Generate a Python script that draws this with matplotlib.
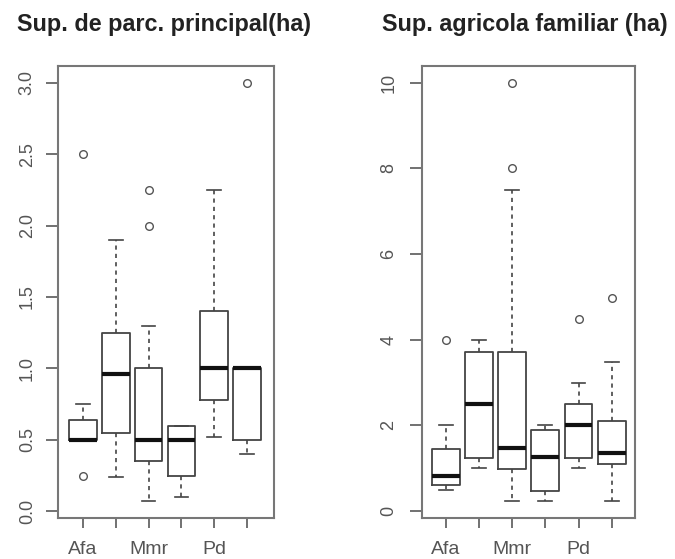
import matplotlib
matplotlib.use("Agg")
import matplotlib.pyplot as plt

plt.rcParams['font.family'] = ['Liberation Sans', 'DejaVu Sans']

groups = ["Afa", "", "Mmr", "", "Pd", ""]

# Panel 1: Sup. de parc. principal (ha)
p1_q1 = [0.50, 0.55, 0.35, 0.25, 0.78, 0.50]
p1_med = [0.50, 0.96, 0.50, 0.50, 1.00, 1.00]
p1_q3 = [0.64, 1.25, 1.00, 0.60, 1.40, 1.00]
p1_lo = [0.50, 0.24, 0.07, 0.10, 0.52, 0.40]
p1_hi = [0.75, 1.90, 1.30, 0.60, 2.25, 1.00]
p1_fl = [[0.25, 2.50], [], [2.00, 2.25], [], [], [3.00]]

# Panel 2: Sup. agricola familiar (ha)
p2_q1 = [0.62, 1.23, 0.98, 0.47, 1.23, 1.10]
p2_med = [0.82, 2.50, 1.48, 1.27, 2.00, 1.35]
p2_q3 = [1.46, 3.72, 3.72, 1.89, 2.49, 2.10]
p2_lo = [0.50, 1.00, 0.23, 0.23, 1.00, 0.23]
p2_hi = [2.00, 4.00, 7.50, 2.00, 2.98, 3.49]
p2_fl = [[4.00], [], [8.00, 10.00], [], [4.48], [4.97]]

titles = ["Sup. de parc. principal(ha)", "Sup. agricola familiar (ha)"]
yticks1 = [0.0, 0.5, 1.0, 1.5, 2.0, 2.5, 3.0]
yticks2 = [0, 2, 4, 6, 8, 10]

fig = plt.figure(figsize=(6.75, 5.59), dpi=100)
ax1 = fig.add_axes([58/675, 1-518/559, (274-58)/675, (518-66)/559])
ax2 = fig.add_axes([421.7/675, 1-518/559, (635-421.7)/675, (518-66)/559])

txtc = '#555555'
linec = '#444444'

def draw(ax, q1, med, q3, lo, hi, fl, yticks, fmt, ylim, xlim, ypad, title, tcx):
    stats = []
    for i in range(len(q1)):
        stats.append(dict(q1=q1[i], med=med[i], q3=q3[i], whislo=lo[i],
                          whishi=hi[i], fliers=fl[i], label=groups[i]))
    ax.bxp(stats, positions=range(1, len(q1)+1), widths=0.84, capwidths=0.42,
           boxprops=dict(color=linec, linewidth=1.3),
           medianprops=dict(color='#111111', linewidth=3.0, solid_capstyle='butt'),
           whiskerprops=dict(color=linec, linewidth=1.2, linestyle=(0, (2.5, 2.5))),
           capprops=dict(color=linec, linewidth=1.2),
           flierprops=dict(marker='o', markersize=5.5, markerfacecolor='none',
                           markeredgecolor='#555555', markeredgewidth=1.0))
    ax.set_ylim(*ylim)
    ax.set_xlim(*xlim)
    ax.set_yticks(yticks)
    ax.set_yticklabels([fmt(v) for v in yticks], rotation=90, va='center',
                       color=txtc, fontsize=13)
    ax.set_xticks(range(1, 7))
    ax.set_xticklabels(groups, color=txtc, fontsize=14)
    ax.tick_params(axis='y', length=9, width=1.3, color='#666666', pad=ypad)
    ax.tick_params(axis='x', length=7.5, width=1.3, color='#666666', pad=9)
    for s in ax.spines.values():
        s.set_color('#777777')
        s.set_linewidth(1.5)
    fig.text(tcx, 1-25/559, title, ha='center', va='center', fontsize=16.8,
             fontweight='bold', color='#222222')

draw(ax1, p1_q1, p1_med, p1_q3, p1_lo, p1_hi, p1_fl, yticks1,
     lambda v: f"{v:.1f}", (-0.047, 3.117), (0.24, 6.82), 7, titles[0], 164/675)
draw(ax2, p2_q1, p2_med, p2_q3, p2_lo, p2_hi, p2_fl, yticks2,
     lambda v: f"{v:d}", (-0.16, 10.39), (0.28, 6.70), 8.5, titles[1], 525/675)

fig.savefig("out.png", dpi=100)
